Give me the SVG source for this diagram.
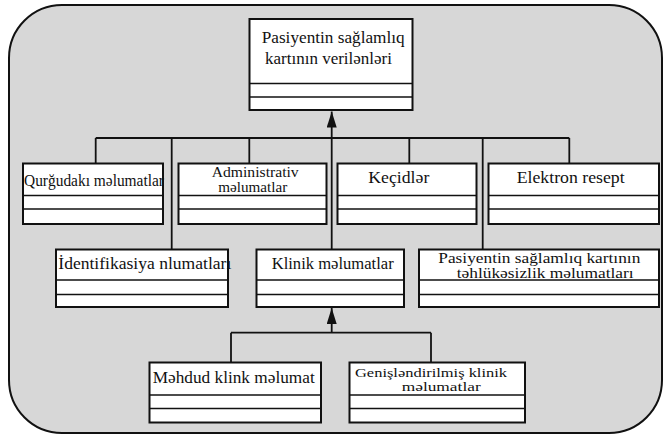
<svg xmlns="http://www.w3.org/2000/svg" width="663" height="436" viewBox="0 0 663 436">
<defs>
<style>
.box{fill:#fff;stroke:#111;stroke-width:2}
.sep{stroke:#111;stroke-width:1.6}
.ln{stroke:#111;stroke-width:1.8;fill:none}
.t{font-family:'Liberation Serif','DejaVu Serif',serif;font-size:17px;fill:#111}
.s{font-size:14px}
.xs{font-size:13px}
</style>
<marker id="tri" viewBox="0 0 16 10" refX="16" refY="5" markerWidth="16" markerHeight="10" markerUnits="userSpaceOnUse" orient="auto">
<path d="M0,0 L16,5 L0,10 Z" fill="#111"/>
</marker>
</defs>
<rect x="9" y="5" width="653" height="428" rx="53" ry="53" fill="#d7d7d7" stroke="#111" stroke-width="2"/>

<g id="connectors">
<line class="ln" x1="331.7" y1="249.5" x2="331.7" y2="111.5" marker-end="url(#tri)"/>
<line class="ln" x1="95.7" y1="138" x2="569.3" y2="138"/>
<line class="ln" x1="95.7" y1="138" x2="95.7" y2="163.5"/>
<line class="ln" x1="171.7" y1="138" x2="171.7" y2="249.5"/>
<line class="ln" x1="249.3" y1="138" x2="249.3" y2="163.5"/>
<line class="ln" x1="409.3" y1="138" x2="409.3" y2="163.5"/>
<line class="ln" x1="482.7" y1="138" x2="482.7" y2="249.5"/>
<line class="ln" x1="569.3" y1="138" x2="569.3" y2="163.5"/>
<line class="ln" x1="331.7" y1="332.7" x2="331.7" y2="308" marker-end="url(#tri)"/>
<line class="ln" x1="231" y1="332.7" x2="431" y2="332.7"/>
<line class="ln" x1="231" y1="332.7" x2="231" y2="362.5"/>
<line class="ln" x1="431" y1="332.7" x2="431" y2="362.5"/>
</g>

<g id="node-top">
<rect class="box" x="249.5" y="19" width="163" height="91"/>
<line class="sep" x1="249.5" y1="83.5" x2="412.5" y2="83.5"/>
<line class="sep" x1="249.5" y1="97" x2="412.5" y2="97"/>
<text class="t" x="261.7" y="43.3" textLength="143" lengthAdjust="spacingAndGlyphs">Pasiyentin sağlamlıq</text>
<text class="t" x="265" y="64.3" textLength="127" lengthAdjust="spacingAndGlyphs">kartının verilənləri</text>
</g>

<g id="node-qurgudaki">
<rect class="box" x="23" y="163.5" width="140" height="60.5"/>
<line class="sep" x1="23" y1="195.5" x2="163" y2="195.5"/>
<line class="sep" x1="23" y1="209" x2="163" y2="209"/>
<text class="t" x="24" y="186" textLength="140" lengthAdjust="spacingAndGlyphs">Qurğudakı məlumatlar</text>
</g>

<g id="node-administrativ">
<rect class="box" x="178.5" y="163.5" width="148" height="60.5"/>
<line class="sep" x1="178.5" y1="195.5" x2="326.5" y2="195.5"/>
<line class="sep" x1="178.5" y1="209" x2="326.5" y2="209"/>
<text class="t s" x="211.7" y="176.5" textLength="87" lengthAdjust="spacingAndGlyphs">Administrativ</text>
<text class="t s" x="218.3" y="191.5" textLength="69" lengthAdjust="spacingAndGlyphs">məlumatlar</text>
</g>

<g id="node-kecidler">
<rect class="box" x="337.5" y="163.5" width="139" height="60.5"/>
<line class="sep" x1="337.5" y1="195.5" x2="476.5" y2="195.5"/>
<line class="sep" x1="337.5" y1="209" x2="476.5" y2="209"/>
<text class="t" x="368.3" y="183.3" textLength="61" lengthAdjust="spacingAndGlyphs">Keçidlər</text>
</g>

<g id="node-elektron">
<rect class="box" x="488.5" y="163.5" width="170.5" height="60.5"/>
<line class="sep" x1="488.5" y1="195.5" x2="659" y2="195.5"/>
<line class="sep" x1="488.5" y1="209" x2="659" y2="209"/>
<text class="t" x="516.7" y="183.3" textLength="108" lengthAdjust="spacingAndGlyphs">Elektron resept</text>
</g>

<g id="node-identifikasiya">
<rect class="box" x="56" y="249.5" width="172" height="57.5"/>
<line class="sep" x1="56" y1="280" x2="228" y2="280"/>
<line class="sep" x1="56" y1="294.5" x2="228" y2="294.5"/>
<text class="t" x="58.3" y="269.3" textLength="173" lengthAdjust="spacingAndGlyphs">İdentifikasiya nlumatları</text>
</g>

<g id="node-klinik">
<rect class="box" x="256.5" y="249.5" width="147.5" height="57.5"/>
<line class="sep" x1="256.5" y1="280" x2="404" y2="280"/>
<line class="sep" x1="256.5" y1="294.5" x2="404" y2="294.5"/>
<text class="t" x="271.7" y="269.3" textLength="122" lengthAdjust="spacingAndGlyphs">Klinik məlumatlar</text>
</g>

<g id="node-tehlukesizlik">
<rect class="box" x="419" y="249.5" width="240" height="57.5"/>
<line class="sep" x1="419" y1="280" x2="659" y2="280"/>
<line class="sep" x1="419" y1="294.5" x2="659" y2="294.5"/>
<text class="t s" x="438.3" y="263" textLength="202" lengthAdjust="spacingAndGlyphs">Pasiyentin sağlamlıq kartının</text>
<text class="t s" x="456.7" y="277.5" textLength="177" lengthAdjust="spacingAndGlyphs">təhlükəsizlik məlumatları</text>
</g>

<g id="node-mehdud">
<rect class="box" x="149.5" y="362.5" width="171.5" height="60"/>
<line class="sep" x1="149.5" y1="395" x2="321" y2="395"/>
<line class="sep" x1="149.5" y1="408.5" x2="321" y2="408.5"/>
<text class="t" x="152.7" y="383.3" textLength="162" lengthAdjust="spacingAndGlyphs">Məhdud klink məlumat</text>
</g>

<g id="node-genislendirilmis">
<rect class="box" x="349.5" y="362.5" width="175.5" height="60"/>
<line class="sep" x1="349.5" y1="395" x2="525" y2="395"/>
<line class="sep" x1="349.5" y1="408.5" x2="525" y2="408.5"/>
<text class="t xs" x="355" y="377" textLength="152" lengthAdjust="spacingAndGlyphs">Genişləndirilmiş klinik</text>
<text class="t xs" x="401.7" y="391" textLength="79" lengthAdjust="spacingAndGlyphs">məlumatlar</text>
</g>
</svg>
